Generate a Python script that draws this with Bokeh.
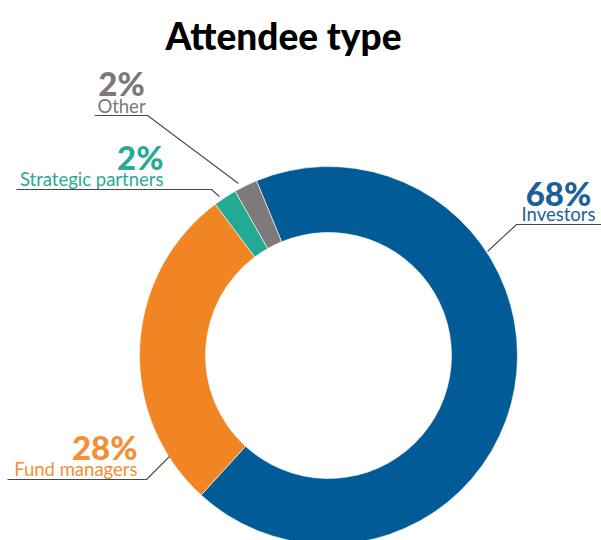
import math
from bokeh.plotting import figure
from bokeh.models import Range1d, ColumnDataSource
from bokeh.embed import file_html
from bokeh.resources import INLINE
from bokeh.core.properties import value

# ---- data ----
categories = ["Investors", "Fund managers", "Strategic partners", "Other"]
shares = [68, 28, 2, 2]
pct_labels = ["68%", "28%", "2%", "2%"]
seg_colors = ["#005b96", "#f28523", "#22aa94", "#7f7a7a"]
txt_colors = ["#1d5f96", "#f39035", "#2aa995", "#7d7878"]

W, H = 601, 540
def Y(y):  # image y -> plot y
    return H - y

p = figure(width=W, height=H, output_backend="svg", toolbar_location=None,
           x_range=Range1d(0, W), y_range=Range1d(0, H),
           min_border=0, outline_line_color=None, background_fill_color="white",
           border_fill_color="white")
p.axis.visible = False
p.grid.visible = False

# ---- donut ----
cx, cy = 328, 355
r_out, r_in = 189, 123
start_cw = -22.4  # degrees clockwise from top where first slice begins
total = sum(shares)
starts, ends = [], []
acc = start_cw
for s in shares:
    a0 = acc
    a1 = acc + s / total * 360.0
    starts.append(math.radians(90 - a0))
    ends.append(math.radians(90 - a1))
    acc = a1
src = ColumnDataSource(dict(cat=categories, start=starts, end=ends, color=seg_colors))
p.annular_wedge(x=cx, y=Y(cy), inner_radius=r_in, outer_radius=r_out,
                start_angle="start", end_angle="end", direction="clock",
                fill_color="color", line_color="white", line_width=0.6, source=src)

# ---- leader lines (annotation layout) ----
leaders = {
    "Investors": ([487, 516, 601], [251, 224, 224]),
    "Fund managers": ([169, 146, 7], [456, 479, 479]),
    "Strategic partners": ([219, 211, 16], [196, 189, 189]),
    "Other": ([238, 147, 94], [183, 115, 115]),
}
for c in categories:
    xs, ys = leaders[c]
    p.line(xs, [Y(v) for v in ys], line_color="#4a4a4a", line_width=1.1)

# ---- labels ----
lab_pos = {  # x, align, pct baseline, name baseline
    "Investors": (558, "center", 192, 213),
    "Fund managers": (137, "right", 446, 468),
    "Strategic partners": (163, "right", 156, 178),
    "Other": (121, "center", 82, 105),
}
for c, pl, tc in zip(categories, pct_labels, txt_colors):
    x, al, yb1, yb2 = lab_pos[c]
    p.text(x=[x], y=[Y(yb1)], text=[pl], text_color=tc, text_align=al,
           text_baseline="alphabetic", text_font=value("Lato Black, Lato"),
           text_font_style="bold", text_font_size="33px")
    p.text(x=[x], y=[Y(yb2)], text=[c], text_color=tc, text_align=al,
           text_baseline="alphabetic", text_font=value("Lato"),
           text_font_size="18.5px")

# ---- title ----
p.text(x=[283], y=[Y(35)], text=["Attendee type"], text_color="black",
       text_align="center", text_baseline="alphabetic",
       text_font=value("Lato Black, Lato"),
       text_font_style="bold", text_font_size="37px")

open("out.html", "w").write(file_html(p, INLINE))
